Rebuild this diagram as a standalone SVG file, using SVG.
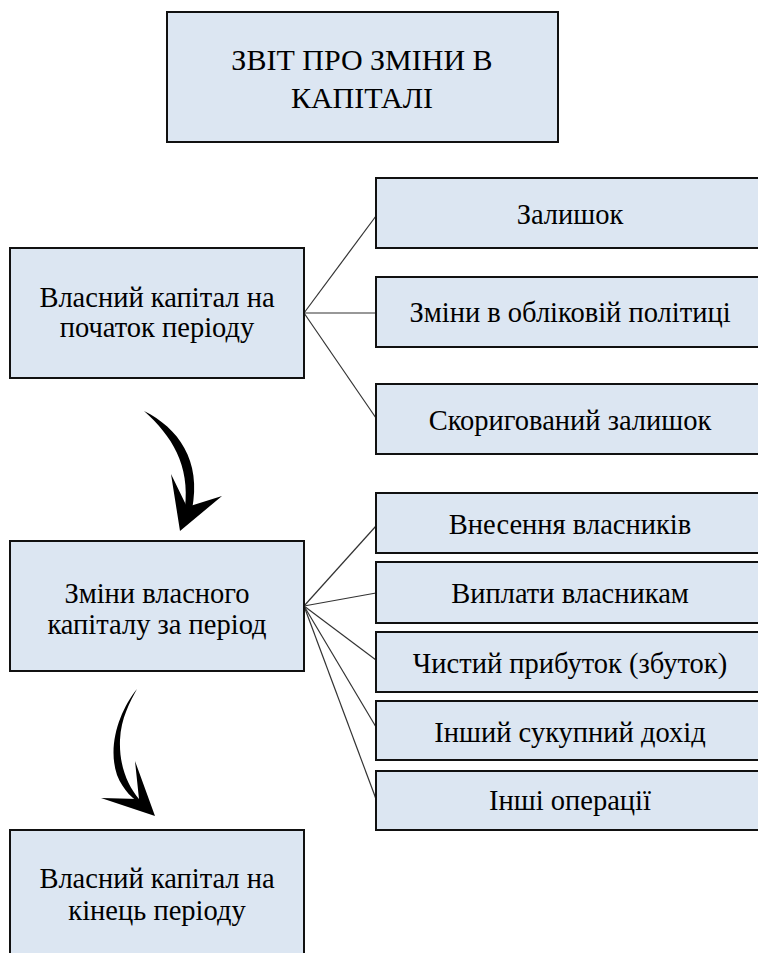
<svg xmlns="http://www.w3.org/2000/svg" width="758" height="953" viewBox="0 0 758 953">
<style>
.box{fill:#dce6f2;stroke:#111;stroke-width:2}
.c{stroke:#333;stroke-width:1.2;fill:none}
.arr{fill:#000;stroke:none}
</style>
<rect width="758" height="953" fill="#fff"/>
<g id="connectors">
<line class="c" x1="304" y1="313" x2="376" y2="216"/>
<line class="c" x1="304" y1="313" x2="376" y2="313"/>
<line class="c" x1="304" y1="313" x2="376" y2="418"/>
<line class="c" x1="304" y1="606" x2="376" y2="526"/>
<line class="c" x1="304" y1="606" x2="376" y2="593"/>
<line class="c" x1="304" y1="606" x2="376" y2="660"/>
<line class="c" x1="304" y1="606" x2="376" y2="727"/>
<line class="c" x1="304" y1="606" x2="376" y2="799"/>
<path class="arr" d="M144,411 C178,428 202,460 192,510 L185,508 C190,465 172,436 144,411 Z"/>
<path class="arr" d="M171,474 L187,507 L222,496 L180,531 Z"/>
<path class="arr" d="M137,689 C120,710 107,745 117,775 C123,790 133,800 145,806 L139,799 C128,786 119,766 120,740 C121,718 130,702 137,689 Z"/>
<path class="arr" d="M135,761 L155,816 L101,798 L139,799 Z"/>
</g>
<g id="title">
<rect class="box" x="167" y="12" width="391" height="130"/>
<text x="362" y="70" font-size="30" font-family="Liberation Serif, serif" text-anchor="middle">ЗВІТ ПРО ЗМІНИ В</text>
<text x="362" y="108" font-size="30" font-family="Liberation Serif, serif" text-anchor="middle">КАПІТАЛІ</text>
</g>
<g id="start">
<rect class="box" x="10" y="248" width="294" height="130"/>
<text x="157" y="307" font-size="28.5" font-family="Liberation Serif, serif" text-anchor="middle">Власний капітал на</text>
<text x="157" y="337" font-size="28.5" font-family="Liberation Serif, serif" text-anchor="middle">початок періоду</text>
</g>
<g id="changes">
<rect class="box" x="10" y="541" width="294" height="130"/>
<text x="157" y="603" font-size="28.5" font-family="Liberation Serif, serif" text-anchor="middle">Зміни власного</text>
<text x="157" y="634" font-size="28.5" font-family="Liberation Serif, serif" text-anchor="middle">капіталу за період</text>
</g>
<g id="end">
<rect class="box" x="10" y="830" width="294" height="140"/>
<text x="157" y="888" font-size="28.5" font-family="Liberation Serif, serif" text-anchor="middle">Власний капітал на</text>
<text x="157" y="920" font-size="28.5" font-family="Liberation Serif, serif" text-anchor="middle">кінець періоду</text>
</g>
<g id="balance">
<rect class="box" x="376" y="178" width="392" height="70"/>
<text x="570" y="224" font-size="28.5" font-family="Liberation Serif, serif" text-anchor="middle">Залишок</text>
</g>
<g id="policy">
<rect class="box" x="376" y="277" width="392" height="70"/>
<text x="570" y="322" font-size="28.5" font-family="Liberation Serif, serif" text-anchor="middle">Зміни в обліковій політиці</text>
</g>
<g id="adjusted">
<rect class="box" x="376" y="384" width="392" height="70"/>
<text x="570" y="430" font-size="28.5" font-family="Liberation Serif, serif" text-anchor="middle">Скоригований залишок</text>
</g>
<g id="contrib">
<rect class="box" x="376" y="493" width="392" height="60"/>
<text x="570" y="534" font-size="28.5" font-family="Liberation Serif, serif" text-anchor="middle">Внесення власників</text>
</g>
<g id="payments">
<rect class="box" x="376" y="562" width="392" height="61"/>
<text x="570" y="603" font-size="28.5" font-family="Liberation Serif, serif" text-anchor="middle">Виплати власникам</text>
</g>
<g id="profit">
<rect class="box" x="376" y="632" width="392" height="60"/>
<text x="570" y="673" font-size="28.5" font-family="Liberation Serif, serif" text-anchor="middle">Чистий прибуток (збуток)</text>
</g>
<g id="oci">
<rect class="box" x="376" y="701" width="392" height="59"/>
<text x="570" y="742" font-size="28.5" font-family="Liberation Serif, serif" text-anchor="middle">Інший сукупний дохід</text>
</g>
<g id="other">
<rect class="box" x="376" y="771" width="392" height="59"/>
<text x="570" y="810" font-size="28.5" font-family="Liberation Serif, serif" text-anchor="middle">Інші операції</text>
</g>
</svg>
